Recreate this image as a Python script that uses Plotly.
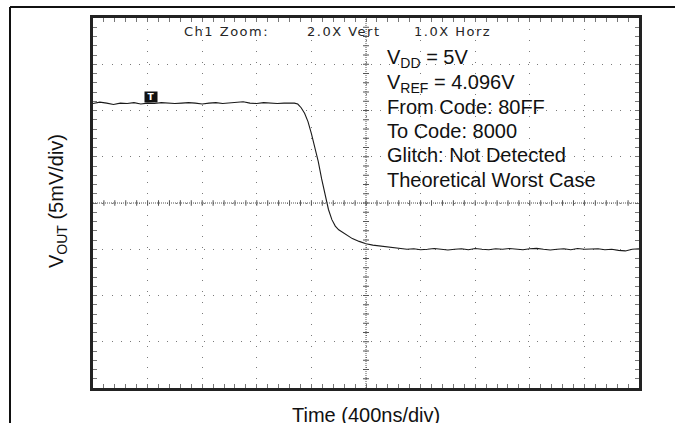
import plotly.graph_objects as go

# ---------------- data ----------------
time_ns = [
    0, 50, 100, 150, 200, 250, 300, 350, 400, 450,
    500, 550, 600, 650, 700, 750, 800, 850, 900, 950,
    1000, 1050, 1100, 1150, 1200, 1250, 1300, 1350, 1400, 1450,
    1475, 1500, 1525, 1550, 1575, 1600, 1625, 1650, 1675, 1700,
    1725, 1750, 1775, 1800, 1850, 1900, 1950, 2000, 2050, 2100,
    2150, 2200,
    2250, 2300, 2350, 2400, 2450, 2500, 2550, 2600, 2650, 2700,
    2750, 2800, 2850, 2900, 2950, 3000, 3050, 3100, 3150, 3200,
    3250, 3300, 3350, 3400, 3450, 3500, 3550, 3600, 3650, 3700,
    3750, 3800, 3850, 3900, 3950, 4000,
]
vout_mv = [
    10.75, 10.9, 10.8, 10.65, 10.8, 10.75, 10.85, 10.7, 10.8, 10.75,
    10.85, 10.8, 10.75, 10.8, 10.85, 10.8, 10.7, 10.8, 10.85, 10.75,
    10.8, 10.85, 10.95, 10.8, 10.75, 10.85, 10.8, 10.75, 10.8, 10.85,
    10.8, 10.7, 10.3, 9.7, 8.8, 7.5, 6.0, 4.5, 2.6, 0.8,
    -0.7, -1.8, -2.5, -2.9, -3.4, -3.85, -4.15, -4.4, -4.55, -4.65,
    -4.75, -4.85,
    -4.9, -5.0, -4.95, -5.05, -5.0, -4.92, -5.0, -5.08, -5.0, -4.95,
    -5.05, -4.92, -5.0, -5.05, -4.95, -5.0, -4.92, -5.0, -5.05, -4.95,
    -4.9, -5.0, -5.08, -5.0, -4.95, -5.05, -4.92, -5.0, -5.0, -4.95,
    -5.05, -5.0, -5.12, -5.18, -5.0, -4.95,
]
x_range_ns = [0, 4000]
y_range_mv = [-20, 20]
x_div_ns = 400
y_div_mv = 5
x_center_ns = 2000
y_center_mv = 0
trigger_ns = 425
trigger_level_mv = 10.8

header_labels = ["Ch1 Zoom:", "2.0X Vert", "1.0X Horz"]
header_x_ns = [652, 1553, 2337]
info_lines = [
    "V<sub>DD</sub> = 5V",
    "V<sub>REF</sub> = 4.096V",
    "From Code: 80FF",
    "To Code: 8000",
    "Glitch: Not Detected",
    "Theoretical Worst Case",
]
x_title = "Time (400ns/div)"
y_title = "V<sub>OUT</sub> (5mV/div)"

# ---------------- layout geometry ----------------
W, H = 675, 423
ML, MR, MT, MB = 93, 36, 18, 35
PW, PH = W - ML - MR, H - MT - MB


def px_x(px):
    return (px - ML) / PW


def px_y(py):
    return (H - MB - py) / PH


info_y_px = [59, 83.5, 107, 130.5, 155, 180]

fig = go.Figure()
fig.add_trace(go.Scatter(
    x=time_ns, y=vout_mv, mode="lines",
    line=dict(color="#1a1a1a", width=1.1),
    hoverinfo="skip",
))

shapes = []
grid_col = "#555555"
# center cross (dense dotted)
shapes.append(dict(type="line", xref="x", yref="y", x0=x_center_ns, x1=x_center_ns,
                   y0=y_range_mv[0], y1=y_range_mv[1],
                   line=dict(color=grid_col, width=1, dash="1px,1px")))
shapes.append(dict(type="line", xref="x", yref="y", y0=y_center_mv, y1=y_center_mv,
                   x0=x_range_ns[0], x1=x_range_ns[1],
                   line=dict(color=grid_col, width=1, dash="1px,1px")))
# minor ticks on the center cross
minor_x = x_div_ns / 5
minor_y = y_div_mv / 5
tick_half_y = 0.3
tick_half_x = 22
n_x = int((x_range_ns[1] - x_range_ns[0]) / minor_x)
n_y = int((y_range_mv[1] - y_range_mv[0]) / minor_y)
for i in range(1, n_x):
    xv = x_range_ns[0] + i * minor_x
    shapes.append(dict(type="line", xref="x", yref="y", x0=xv, x1=xv,
                       y0=y_center_mv - tick_half_y, y1=y_center_mv + tick_half_y,
                       line=dict(color=grid_col, width=1)))
for i in range(1, n_y):
    yv = y_range_mv[0] + i * minor_y
    shapes.append(dict(type="line", xref="x", yref="y", y0=yv, y1=yv,
                       x0=x_center_ns - tick_half_x, x1=x_center_ns + tick_half_x,
                       line=dict(color=grid_col, width=1)))
# outer frame lines
shapes.append(dict(type="line", xref="paper", yref="paper",
                   x0=px_x(10), x1=px_x(W + 5), y0=px_y(7), y1=px_y(7),
                   line=dict(color="#111111", width=2)))
shapes.append(dict(type="line", xref="paper", yref="paper",
                   x0=px_x(10), x1=px_x(10), y0=px_y(7), y1=px_y(H + 5),
                   line=dict(color="#111111", width=2)))

annotations = []
for lab, xv in zip(header_labels, header_x_ns):
    annotations.append(dict(
        x=xv, xref="x", y=px_y(32), yref="paper", xanchor="left", yanchor="middle",
        text='<span style="letter-spacing:1.5px">' + lab + '</span>', showarrow=False,
        font=dict(family="DejaVu Sans", size=13, color="#262626"),
    ))
for line, py in zip(info_lines, info_y_px):
    annotations.append(dict(
        x=px_x(385), xref="paper", y=px_y(py), yref="paper",
        xanchor="left", yanchor="middle", text=line, showarrow=False,
        font=dict(family="Liberation Sans, Arial", size=20, color="#111111"),
    ))
annotations.append(dict(
    x=0.5, xref="paper", y=px_y(415), yref="paper", xanchor="center", yanchor="middle",
    text=x_title, showarrow=False,
    font=dict(family="Liberation Sans, Arial", size=20, color="#111111"),
))
annotations.append(dict(
    x=px_x(57), xref="paper", y=px_y(201), yref="paper", xanchor="center", yanchor="middle",
    text=y_title, textangle=-90, showarrow=False,
    font=dict(family="Liberation Sans, Arial", size=20, color="#111111"),
))
annotations.append(dict(
    x=trigger_ns, xref="x", y=trigger_level_mv, yref="y", xanchor="center", yanchor="bottom",
    text="<b>T</b>", showarrow=False, width=12, height=10, borderpad=0,
    bgcolor="#111111", font=dict(family="DejaVu Sans", size=9, color="#ffffff"),
))

axis_common = dict(
    showgrid=True, gridcolor="#7a7a7a", gridwidth=1, zeroline=False,
    showline=True, linecolor="#222222", linewidth=3, mirror="allticks",
    ticks="inside", ticklen=4, tickcolor="#777777", tickwidth=1,
    showticklabels=False, fixedrange=True,
)
fig.update_layout(
    width=W, height=H,
    margin=dict(l=ML, r=MR, t=MT, b=MB),
    paper_bgcolor="white", plot_bgcolor="white",
    showlegend=False,
    xaxis=dict(range=x_range_ns, tick0=0, dtick=x_div_ns, griddash="1px,9.92px",
               minor=dict(dtick=minor_x, ticks="inside", ticklen=4, tickcolor="#777777",
                          showgrid=False),
               **axis_common),
    yaxis=dict(range=y_range_mv, tick0=y_range_mv[0], dtick=y_div_mv, griddash="1px,8.25px",
               minor=dict(dtick=minor_y, ticks="inside", ticklen=4, tickcolor="#777777",
                          showgrid=False),
               **axis_common),
    shapes=shapes,
    annotations=annotations,
)

fig.write_html("out.html", config={"displayModeBar": False},
               post_script="document.body.style.margin='0px';")
